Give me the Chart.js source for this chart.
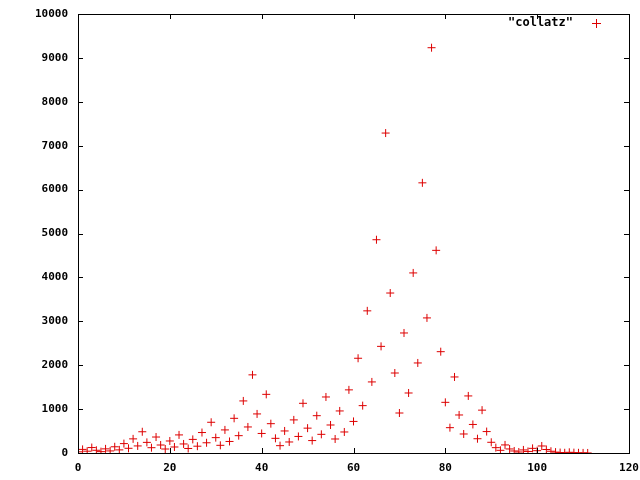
<!DOCTYPE html>
<html><head><meta charset="utf-8">
<script src="https://cdn.jsdelivr.net/npm/chart.js@4/dist/chart.umd.min.js"></script>
<style>html,body{margin:0;background:#fff}#w{width:640px;height:480px}</style>
</head><body><div id="w"><canvas id="c"></canvas></div>
<script>
const values=[27,82,41,124,62,31,94,47,142,71,214,107,322,161,484,242,121,364,182,91,274,137,412,206,103,310,155,466,233,700,350,175,526,263,790,395,1186,593,1780,890,445,1336,668,334,167,502,251,754,377,1132,566,283,850,425,1276,638,319,958,479,1438,719,2158,1079,3238,1619,4858,2429,7288,3644,1822,911,2734,1367,4102,2051,6154,3077,9232,4616,2308,1154,577,1732,866,433,1300,650,325,976,488,244,122,61,184,92,46,23,70,35,106,53,160,80,40,20,10,5,16,8,4,2,1];
const seriesName='"collatz"';
const xTicks=[0,20,40,60,80,100,120];
const yTicks=[0,1000,2000,3000,4000,5000,6000,7000,8000,9000,10000];
const pts=values.map((v,i)=>({x:i,y:v}));
const FONT='bold 12px "DejaVu Sans Mono", "Liberation Mono", monospace';
const RED='#dd0000';
const frame={id:'frame',afterDraw(ch){
  const {ctx,chartArea:a,scales:{x,y}}=ch;
  ctx.save();ctx.strokeStyle='#000';ctx.lineWidth=1;
  ctx.strokeRect(a.left+0.5,a.top+0.5,a.right-a.left,a.bottom-a.top);
  ctx.beginPath();
  xTicks.forEach(t=>{const p=Math.round(x.getPixelForValue(t))+0.5;ctx.moveTo(p,a.bottom);ctx.lineTo(p,a.bottom-5);ctx.moveTo(p,a.top);ctx.lineTo(p,a.top+5);});
  yTicks.forEach(t=>{const p=Math.round(y.getPixelForValue(t))+0.5;ctx.moveTo(a.left,p);ctx.lineTo(a.left+5,p);ctx.moveTo(a.right,p);ctx.lineTo(a.right-5,p);});
  ctx.stroke();
  ctx.font=FONT;ctx.fillStyle='#000';ctx.textAlign='right';ctx.textBaseline='middle';
  ctx.fillText(seriesName,573,23);
  ctx.beginPath();ctx.strokeStyle=RED;ctx.moveTo(592,23.5);ctx.lineTo(601,23.5);ctx.moveTo(596.5,19);ctx.lineTo(596.5,28);ctx.stroke();
  ctx.restore();}};
new Chart(document.getElementById('c'),{type:'scatter',
 data:{datasets:[{label:seriesName,data:pts,pointStyle:'cross',pointRadius:4,borderColor:RED,backgroundColor:RED,borderWidth:1}]},
 options:{responsive:true,maintainAspectRatio:false,animation:false,devicePixelRatio:1,
  layout:{padding:{top:14,right:11,left:0,bottom:0}},
  plugins:{legend:{display:false},tooltip:{enabled:false}},
  scales:{
   x:{type:'linear',min:0,max:120,grid:{display:false},border:{display:false},
      afterFit(s){s.height=27;},
      afterBuildTicks(s){s.ticks=xTicks.map(v=>({value:v}));},
      ticks:{color:'#000',font:{family:'"DejaVu Sans Mono", monospace',size:11,weight:'bold'},padding:1,maxRotation:0}},
   y:{type:'linear',min:0,max:10000,grid:{display:false},border:{display:false},
      afterFit(s){s.width=78;},
      afterBuildTicks(s){s.ticks=yTicks.map(v=>({value:v}));},
      ticks:{color:'#000',font:{family:'"DejaVu Sans Mono", monospace',size:11,weight:'bold'},padding:2,callback:v=>String(v)}}
  }},plugins:[frame]});
</script></body></html>
